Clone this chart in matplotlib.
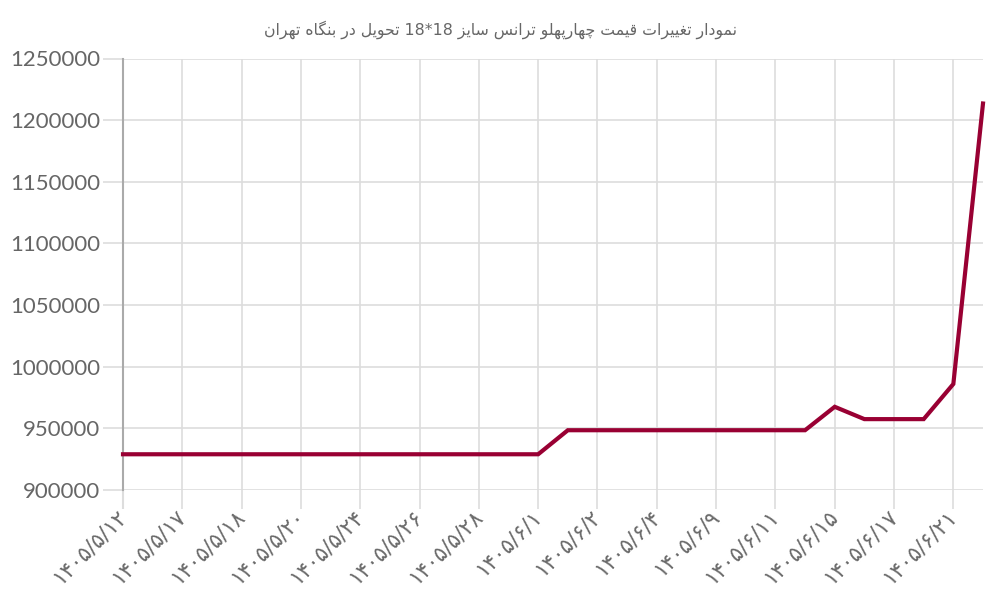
import matplotlib
matplotlib.use("Agg")
import matplotlib.pyplot as plt
import numpy as np

# ---------------- data ----------------
dates = [
    "۱۴۰۵/۵/۱۲", "۱۴۰۵/۵/۱۴", "۱۴۰۵/۵/۱۷", "۱۴۰۵/۵/۱۷", "۱۴۰۵/۵/۱۸", "۱۴۰۵/۵/۱۹",
    "۱۴۰۵/۵/۲۰", "۱۴۰۵/۵/۲۲", "۱۴۰۵/۵/۲۴", "۱۴۰۵/۵/۲۵", "۱۴۰۵/۵/۲۶", "۱۴۰۵/۵/۲۷",
    "۱۴۰۵/۵/۲۸", "۱۴۰۵/۵/۳۰", "۱۴۰۵/۶/۱", "۱۴۰۵/۶/۱", "۱۴۰۵/۶/۲", "۱۴۰۵/۶/۳",
    "۱۴۰۵/۶/۴", "۱۴۰۵/۶/۷", "۱۴۰۵/۶/۹", "۱۴۰۵/۶/۱۰", "۱۴۰۵/۶/۱۱", "۱۴۰۵/۶/۱۲",
    "۱۴۰۵/۶/۱۵", "۱۴۰۵/۶/۱۶", "۱۴۰۵/۶/۱۷", "۱۴۰۵/۶/۱۸", "۱۴۰۵/۶/۲۱", "۱۴۰۵/۶/۲۲",
]
prices = [
    929000, 929000, 929000, 929000, 929000, 929000,
    929000, 929000, 929000, 929000, 929000, 929000,
    929000, 929000, 929000, 948500, 948500, 948500,
    948500, 948500, 948500, 948500, 948500, 948500,
    967500, 957500, 957500, 957500, 986000, 1213500,
]
yticks = [900000, 950000, 1000000, 1050000, 1100000, 1150000, 1200000, 1250000]
title_text = "نمودار تغییرات قیمت چهارپهلو ترانس سایز 18*18 تحویل در بنگاه تهران"

# ---------------- minimal Arabic/Persian shaping ----------------
FORMS = {
    "\u0627": ("\uFE8D", "\uFE8E", None, None),
    "\u0628": ("\uFE8F", "\uFE90", "\uFE91", "\uFE92"),
    "\u062A": ("\uFE95", "\uFE96", "\uFE97", "\uFE98"),
    "\u062D": ("\uFEA1", "\uFEA2", "\uFEA3", "\uFEA4"),
    "\u062F": ("\uFEA9", "\uFEAA", None, None),
    "\u0631": ("\uFEAD", "\uFEAE", None, None),
    "\u0632": ("\uFEAF", "\uFEB0", None, None),
    "\u0633": ("\uFEB1", "\uFEB2", "\uFEB3", "\uFEB4"),
    "\u063A": ("\uFECD", "\uFECE", "\uFECF", "\uFED0"),
    "\u0642": ("\uFED5", "\uFED6", "\uFED7", "\uFED8"),
    "\u0644": ("\uFEDD", "\uFEDE", "\uFEDF", "\uFEE0"),
    "\u0645": ("\uFEE1", "\uFEE2", "\uFEE3", "\uFEE4"),
    "\u0646": ("\uFEE5", "\uFEE6", "\uFEE7", "\uFEE8"),
    "\u0647": ("\uFEE9", "\uFEEA", "\uFEEB", "\uFEEC"),
    "\u0648": ("\uFEED", "\uFEEE", None, None),
    "\u067E": ("\uFB56", "\uFB57", "\uFB58", "\uFB59"),
    "\u0686": ("\uFB7A", "\uFB7B", "\uFB7C", "\uFB7D"),
    "\u06AF": ("\uFB92", "\uFB93", "\uFB94", "\uFB95"),
    "\u06CC": ("\uFBFC", "\uFBFD", "\uFBFE", "\uFBFF"),
}


def dual(c):
    return c in FORMS and FORMS[c][2] is not None


def shape(text):
    out = []
    for i, c in enumerate(text):
        if c not in FORMS:
            out.append(c)
            continue
        prev = text[i - 1] if i > 0 else ""
        nxt = text[i + 1] if i + 1 < len(text) else ""
        jp = dual(prev)
        jn = dual(c) and nxt in FORMS
        iso, fin, ini, med = FORMS[c]
        if jp and jn:
            out.append(med)
        elif jp:
            out.append(fin)
        elif jn:
            out.append(ini)
        else:
            out.append(iso)
    s = "".join(out)
    # visual order: reverse RTL, keep LTR runs (digits etc.) intact
    runs, cur, cur_ltr = [], "", None
    for c in s:
        ltr = c.isascii() and not c.isspace()
        if cur_ltr is None or ltr == cur_ltr:
            cur += c
        else:
            runs.append((cur, cur_ltr))
            cur = c
        cur_ltr = ltr
    if cur:
        runs.append((cur, cur_ltr))
    res = ""
    for txt, ltr in reversed(runs):
        res += txt if ltr else txt[::-1]
    return res


# ---------------- plot ----------------
plt.rcParams["font.family"] = ["Lato", "DejaVu Sans"]

fig = plt.figure(figsize=(10, 6), dpi=100)
ax = fig.add_axes([0.123, 0.1833, 0.860, 0.7192])

x = np.arange(len(prices))
ax.plot(x, prices, color="#990033", linewidth=3, solid_joinstyle="miter", zorder=3, clip_on=False)

ax.set_xlim(0, len(prices) - 1)
ax.set_ylim(yticks[0], yticks[-1])
ax.set_yticks(yticks)
ax.set_yticklabels([str(v) for v in yticks])

ticks = x[::2]
ax.set_xticks(ticks)
ax.set_xticklabels([dates[i] for i in ticks], rotation=45, ha="right", va="center",
                   rotation_mode="anchor", family=["DejaVu Sans"], fontsize=15.5, color="#6a6a6a")

ax.grid(True, color="#dddddd", linewidth=1.2)
ax.set_axisbelow(True)
for s in ["top", "right", "bottom"]:
    ax.spines[s].set_visible(False)
ax.spines["left"].set_color("#aaaaaa")
ax.spines["left"].set_linewidth(1.5)

ax.tick_params(axis="x", length=13.5, width=1.2, color="#dddddd", pad=3)
ax.tick_params(axis="y", length=14.4, width=1.2, color="#dddddd", labelsize=16,
               labelcolor="#666666", pad=2)
first = ax.xaxis.get_major_ticks()[0]
first.tick1line.set_color("#aaaaaa")
first.tick1line.set_markeredgewidth(1.5)

fig.text(0.5, 0.95, shape(title_text), ha="center", va="center", fontsize=11.3,
         color="#666666", family=["DejaVu Sans"])

fig.savefig("out.png", dpi=100)
